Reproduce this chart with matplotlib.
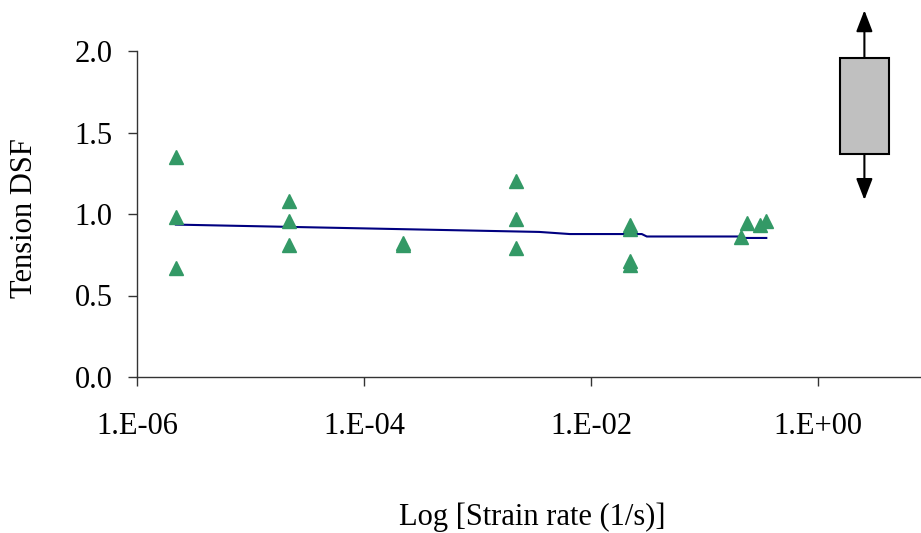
import matplotlib
matplotlib.use("Agg")
import matplotlib.pyplot as plt
from matplotlib.patches import Rectangle

# measured dynamic strength factors (tension) vs strain rate
rate_pts = [2.2e-6, 2.2e-6, 2.2e-6,
            2.2e-5, 2.2e-5, 2.2e-5,
            2.2e-4, 2.2e-4,
            2.2e-3, 2.2e-3, 2.2e-3,
            2.2e-2, 2.2e-2, 2.2e-2, 2.2e-2,
            0.21, 0.235, 0.31, 0.35]
dsf_pts = [1.35, 0.98, 0.67,
           1.08, 0.96, 0.81,
           0.82, 0.81,
           1.20, 0.97, 0.79,
           0.93, 0.91, 0.71, 0.69,
           0.86, 0.945, 0.93, 0.955]

# model curve
rate_fit = [2.2e-6, 3.5e-3, 6.5e-3, 2.8e-2, 3.1e-2, 0.2, 0.2, 0.35]
dsf_fit = [0.935, 0.89, 0.877, 0.877, 0.862, 0.862, 0.853, 0.853]

# scatter box of reported values
box_x = [1.55, 4.23]
box_q = [1.37, 1.96]
box_w = [1.086, 2.25]

xticks = [1e-6, 1e-4, 1e-2, 1e0]
xticklabels = ["1.E-06", "1.E-04", "1.E-02", "1.E+00"]
yticks = [0.0, 0.5, 1.0, 1.5, 2.0]

plt.rcParams['font.family'] = ['Liberation Serif', 'DejaVu Serif']
FS = 22

fig = plt.figure(figsize=(9.21, 5.33), dpi=100)
ax = fig.add_axes([137 / 921, 156 / 533, 784 / 921, 326 / 533])

ax.plot(rate_fit, dsf_fit, color='#000080', lw=1.5, zorder=2)
ax.plot(rate_pts, dsf_pts, ls='none', marker='^', ms=9.5,
        color='#339966', mec='#339966', zorder=3)

xc = (box_x[0] * box_x[1]) ** 0.5
ax.add_patch(Rectangle((box_x[0], box_q[0]), box_x[1] - box_x[0],
                       box_q[1] - box_q[0], facecolor='#c0c0c0',
                       edgecolor='black', lw=1.5, clip_on=False, zorder=4))
arrow = dict(arrowstyle='-|>,head_length=0.65,head_width=0.25',
             mutation_scale=20, color='black', lw=1.5,
             shrinkA=0, shrinkB=0)
ax.annotate('', xy=(xc, box_w[1]), xytext=(xc, box_q[1]),
            arrowprops=arrow, annotation_clip=False)
ax.annotate('', xy=(xc, box_w[0]), xytext=(xc, box_q[0]),
            arrowprops=arrow, annotation_clip=False)

ax.set_xscale('log')
ax.set_xlim(1e-6, 10 ** 0.907)
ax.set_ylim(0, 2.0)
ax.set_xticks(xticks)
ax.set_xticklabels(xticklabels)
ax.minorticks_off()
ax.set_yticks(yticks)
ax.set_yticklabels([f"{v:.1f}" for v in yticks])

for s in ['top', 'right']:
    ax.spines[s].set_visible(False)
for s in ['left', 'bottom']:
    ax.spines[s].set_color('#333333')
    ax.spines[s].set_linewidth(1.0)
ax.tick_params(direction='out', length=6.5, width=1.0, color='#333333',
               labelsize=FS)
ax.tick_params(axis='x', pad=19)
ax.tick_params(axis='y', pad=11)

fig.text(25 / 921, 1 - 218 / 533, 'Tension DSF', fontsize=FS,
         rotation=90, ha='center', va='center')
fig.text(532 / 921, 1 - 517 / 533, 'Log [Strain rate (1/s)]',
         fontsize=FS, ha='center', va='center')

fig.savefig('out.png', dpi=100)
